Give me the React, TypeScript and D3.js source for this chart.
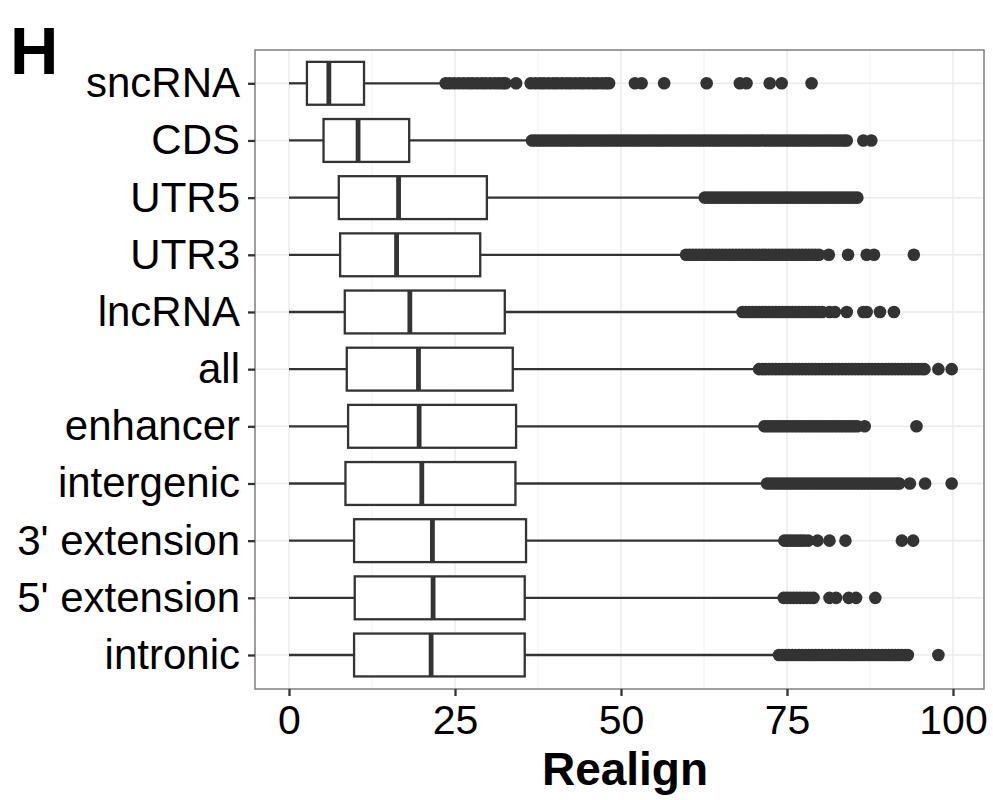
import React, { useRef, useEffect } from 'react';
import * as d3 from 'd3';

const categories = ['sncRNA', 'CDS', 'UTR5', 'UTR3', 'lncRNA', 'all', 'enhancer', 'intergenic', "3' extension", "5' extension", 'intronic'];

const lowerWhisker = [0, 0, 0, 0, 0, 0, 0, 0, 0, 0, 0];
const q1 = [2.7, 5.2, 7.5, 7.7, 8.4, 8.7, 8.9, 8.5, 9.8, 9.9, 9.8];
const median = [6.0, 10.4, 16.5, 16.2, 18.2, 19.5, 19.6, 20.0, 21.6, 21.7, 21.4];
const q3 = [11.3, 18.1, 29.8, 28.8, 32.5, 33.7, 34.2, 34.1, 35.7, 35.5, 35.5];
const upperWhisker = [23.2, 36.3, 62.3, 59.6, 68.0, 70.6, 71.4, 71.8, 74.0, 73.9, 73.4];

// outliers (dense runs listed point by point)
const sncRNAOut = [23.6, 24.2, 24.9, 25.6, 26.3, 27.0, 27.6, 28.3, 29.0, 29.6, 30.3, 31.0, 31.6, 32.2, 32.6, 34.2, 36.4, 37.1, 37.8, 38.4, 39.1, 39.8, 40.4, 41.1, 41.8, 42.4, 43.1, 43.8, 44.4, 45.1, 45.8, 46.4, 47.1, 47.7, 48.2, 52.1, 53.1, 56.5, 62.9, 67.9, 68.9, 72.4, 74.2, 78.7];
const cdsOut = [36.6, 37.1, 37.6, 38.1, 38.6, 39.1, 39.6, 40.1, 40.6, 41.1, 41.6, 42.1, 42.6, 43.1, 43.6, 44.1, 44.6, 45.1, 45.6, 46.1, 46.6, 47.1, 47.6, 48.1, 48.6, 49.1, 49.6, 50.1, 50.6, 51.1, 51.6, 52.1, 52.6, 53.1, 53.6, 54.1, 54.6, 55.1, 55.6, 56.1, 56.6, 57.1, 57.6, 58.1, 58.6, 59.1, 59.6, 60.1, 60.6, 61.1, 61.6, 62.1, 62.6, 63.1, 63.6, 64.1, 64.6, 65.1, 65.6, 66.1, 66.6, 67.1, 67.6, 68.1, 68.6, 69.1, 69.6, 70.1, 70.6, 71.1, 71.6, 72.1, 72.6, 73.1, 73.6, 74.1, 74.6, 75.1, 75.6, 76.1, 76.6, 77.1, 77.6, 78.1, 78.6, 79.1, 79.6, 80.1, 80.6, 81.1, 81.6, 82.1, 82.6, 83.1, 83.6, 84.0, 86.5, 87.7];
const utr5Out = [62.6, 63.1, 63.6, 64.1, 64.6, 65.1, 65.6, 66.1, 66.6, 67.1, 67.6, 68.1, 68.6, 69.1, 69.6, 70.1, 70.6, 71.1, 71.6, 72.1, 72.6, 73.1, 73.6, 74.1, 74.6, 75.1, 75.6, 76.1, 76.6, 77.1, 77.6, 78.1, 78.6, 79.1, 79.6, 80.1, 80.6, 81.1, 81.6, 82.1, 82.6, 83.1, 83.6, 84.1, 84.6, 85.1, 85.6];
const utr3Out = [59.8, 60.3, 60.8, 61.3, 61.8, 62.3, 62.8, 63.3, 63.8, 64.3, 64.8, 65.3, 65.8, 66.3, 66.8, 67.3, 67.8, 68.3, 68.8, 69.3, 69.8, 70.3, 70.8, 71.3, 71.8, 72.3, 72.8, 73.3, 73.8, 74.3, 74.8, 75.3, 75.8, 76.3, 76.8, 77.3, 77.8, 78.3, 78.8, 79.3, 79.8, 81.3, 84.2, 87.0, 88.1, 94.1];
const lncRNAOut = [68.3, 68.8, 69.3, 69.8, 70.3, 70.8, 71.3, 71.8, 72.3, 72.8, 73.3, 73.8, 74.3, 74.8, 75.3, 75.8, 76.3, 76.8, 77.3, 77.8, 78.3, 78.8, 79.3, 79.8, 80.3, 81.4, 82.2, 84.0, 86.5, 87.0, 89.0, 91.1];
const allOut = [70.8, 71.3, 71.8, 72.3, 72.8, 73.3, 73.8, 74.3, 74.8, 75.3, 75.8, 76.3, 76.8, 77.3, 77.8, 78.3, 78.8, 79.3, 79.8, 80.3, 80.8, 81.3, 81.8, 82.3, 82.8, 83.3, 83.8, 84.3, 84.8, 85.3, 85.8, 86.3, 86.8, 87.3, 87.8, 88.3, 88.8, 89.3, 89.8, 90.3, 90.8, 91.3, 91.8, 92.3, 92.8, 93.3, 93.8, 94.3, 94.8, 95.3, 95.7, 97.8, 99.8];
const enhancerOut = [71.6, 72.1, 72.6, 73.1, 73.6, 74.1, 74.6, 75.1, 75.6, 76.1, 76.6, 77.1, 77.6, 78.1, 78.6, 79.1, 79.6, 80.1, 80.6, 81.1, 81.6, 82.1, 82.6, 83.1, 83.6, 84.1, 84.6, 85.1, 85.6, 86.7, 94.5];
const intergenicOut = [72.0, 72.5, 73.0, 73.5, 74.0, 74.5, 75.0, 75.5, 76.0, 76.5, 77.0, 77.5, 78.0, 78.5, 79.0, 79.5, 80.0, 80.5, 81.0, 81.5, 82.0, 82.5, 83.0, 83.5, 84.0, 84.5, 85.0, 85.5, 86.0, 86.5, 87.0, 87.5, 88.0, 88.5, 89.0, 89.5, 90.0, 90.5, 91.0, 91.5, 91.9, 93.5, 95.8, 99.8];
const ext3Out = [74.6, 75.1, 75.6, 76.1, 76.6, 77.1, 77.6, 78.2, 79.6, 81.4, 83.8, 92.3, 94.0];
const ext5Out = [74.5, 75.0, 75.5, 76.0, 76.5, 77.0, 77.5, 78.0, 78.5, 79.0, 81.4, 82.4, 84.3, 85.4, 88.3];
const intronicOut = [73.8, 74.3, 74.8, 75.3, 75.8, 76.3, 76.8, 77.3, 77.8, 78.3, 78.8, 79.3, 79.8, 80.3, 80.8, 81.3, 81.8, 82.3, 82.8, 83.3, 83.8, 84.3, 84.8, 85.3, 85.8, 86.3, 86.8, 87.3, 87.8, 88.3, 88.8, 89.3, 89.8, 90.3, 90.8, 91.3, 91.8, 92.3, 92.8, 93.2, 97.8];

const outliers = [sncRNAOut, cdsOut, utr5Out, utr3Out, lncRNAOut, allOut, enhancerOut, intergenicOut, ext3Out, ext5Out, intronicOut];

const xTicks = [0, 25, 50, 75, 100];
const xMinor = [12.5, 37.5, 62.5, 87.5];

const FONT = '"Liberation Sans", Arial, Helvetica, sans-serif';
const INK = '#333333';

const createChart = (svgEl: SVGSVGElement): void => {
    const svg = d3.select(svgEl);
    svg.selectAll('*').remove();

    const panel = { left: 255, right: 984, top: 50, bottom: 689 };

    const x = d3.scaleLinear().domain([0, 100]).range([289, 953]);
    const y = d3.scalePoint<string>()
        .domain(categories)
        .range([83.3, 655]);
    const boxH = y.step() * 0.75;

    // panel background
    svg.append('rect')
        .attr('x', panel.left).attr('y', panel.top)
        .attr('width', panel.right - panel.left).attr('height', panel.bottom - panel.top)
        .attr('fill', '#fff');

    // grid
    const grid = svg.append('g');
    grid.selectAll('.minor').data(xMinor).enter().append('line')
        .attr('x1', d => x(d)).attr('x2', d => x(d))
        .attr('y1', panel.top).attr('y2', panel.bottom)
        .attr('stroke', '#F2F2F2').attr('stroke-width', 1);
    grid.selectAll('.major').data(xTicks).enter().append('line')
        .attr('x1', d => x(d)).attr('x2', d => x(d))
        .attr('y1', panel.top).attr('y2', panel.bottom)
        .attr('stroke', '#EBEBEB').attr('stroke-width', 1.5);
    grid.selectAll('.hmajor').data(categories).enter().append('line')
        .attr('x1', panel.left).attr('x2', panel.right)
        .attr('y1', d => y(d)!).attr('y2', d => y(d)!)
        .attr('stroke', '#EBEBEB').attr('stroke-width', 1.5);

    const rows = categories.map((c, i) => ({
        cat: c, lo: lowerWhisker[i], q1: q1[i], med: median[i], q3: q3[i], hi: upperWhisker[i], out: outliers[i]
    }));

    const g = svg.append('g');

    // whiskers
    g.selectAll('.wl').data(rows).enter().append('line')
        .attr('x1', d => x(d.lo)).attr('x2', d => x(d.q1))
        .attr('y1', d => y(d.cat)!).attr('y2', d => y(d.cat)!)
        .attr('stroke', INK).attr('stroke-width', 2.3);
    g.selectAll('.wh').data(rows).enter().append('line')
        .attr('x1', d => x(d.q3)).attr('x2', d => x(d.hi))
        .attr('y1', d => y(d.cat)!).attr('y2', d => y(d.cat)!)
        .attr('stroke', INK).attr('stroke-width', 2.3);

    // boxes
    g.selectAll('.box').data(rows).enter().append('rect')
        .attr('x', d => x(d.q1)).attr('width', d => x(d.q3) - x(d.q1))
        .attr('y', d => y(d.cat)! - boxH / 2).attr('height', boxH)
        .attr('fill', '#fff').attr('stroke', INK).attr('stroke-width', 2.3);

    // medians
    g.selectAll('.med').data(rows).enter().append('line')
        .attr('x1', d => x(d.med)).attr('x2', d => x(d.med))
        .attr('y1', d => y(d.cat)! - boxH / 2).attr('y2', d => y(d.cat)! + boxH / 2)
        .attr('stroke', INK).attr('stroke-width', 4.8);

    // outliers
    rows.forEach(r => {
        g.append('g').selectAll('circle').data(r.out).enter().append('circle')
            .attr('cx', d => x(d)).attr('cy', y(r.cat)!)
            .attr('r', 6.3).attr('fill', INK);
    });

    // border
    svg.append('rect')
        .attr('x', panel.left).attr('y', panel.top)
        .attr('width', panel.right - panel.left).attr('height', panel.bottom - panel.top)
        .attr('fill', 'none').attr('stroke', '#7F7F7F').attr('stroke-width', 1.5);

    // x axis
    const xAxis = svg.append('g')
        .attr('transform', `translate(0,${panel.bottom})`)
        .call(d3.axisBottom(x).tickValues(xTicks).tickFormat(d3.format('d')).tickSize(7).tickPadding(9));
    xAxis.select('.domain').remove();
    xAxis.selectAll('.tick line').attr('stroke', INK).attr('stroke-width', 2.3);
    xAxis.selectAll('.tick text').attr('fill', '#000').style('font-size', '41px').style('font-family', FONT);

    // y axis
    const yAxis = svg.append('g')
        .attr('transform', `translate(${panel.left},0)`)
        .call(d3.axisLeft(y).tickSize(7).tickPadding(8));
    yAxis.select('.domain').remove();
    yAxis.selectAll('.tick line').attr('stroke', INK).attr('stroke-width', 2.3);
    yAxis.selectAll('.tick text').attr('fill', '#000').style('font-size', '42px').style('font-family', FONT);

    // axis title
    svg.append('text')
        .attr('x', 625).attr('y', 785)
        .attr('text-anchor', 'middle')
        .style('font-family', FONT).style('font-size', '46px').style('font-weight', 'bold')
        .attr('fill', '#000')
        .text('Realign');

    // panel tag
    svg.append('text')
        .attr('x', 10).attr('y', 74)
        .style('font-family', FONT).style('font-size', '67px').style('font-weight', 'bold')
        .attr('fill', '#000')
        .text('H');
};

const App: React.FC = () => {
    const ref = useRef<SVGSVGElement>(null);

    useEffect(() => {
        if (ref.current) createChart(ref.current);
    }, []);

    return (
        <svg
            ref={ref}
            width={993}
            height={800}
            style={{ position: 'absolute', left: 0, top: 0, background: '#fff' }}
        />
    );
};

export default App;
